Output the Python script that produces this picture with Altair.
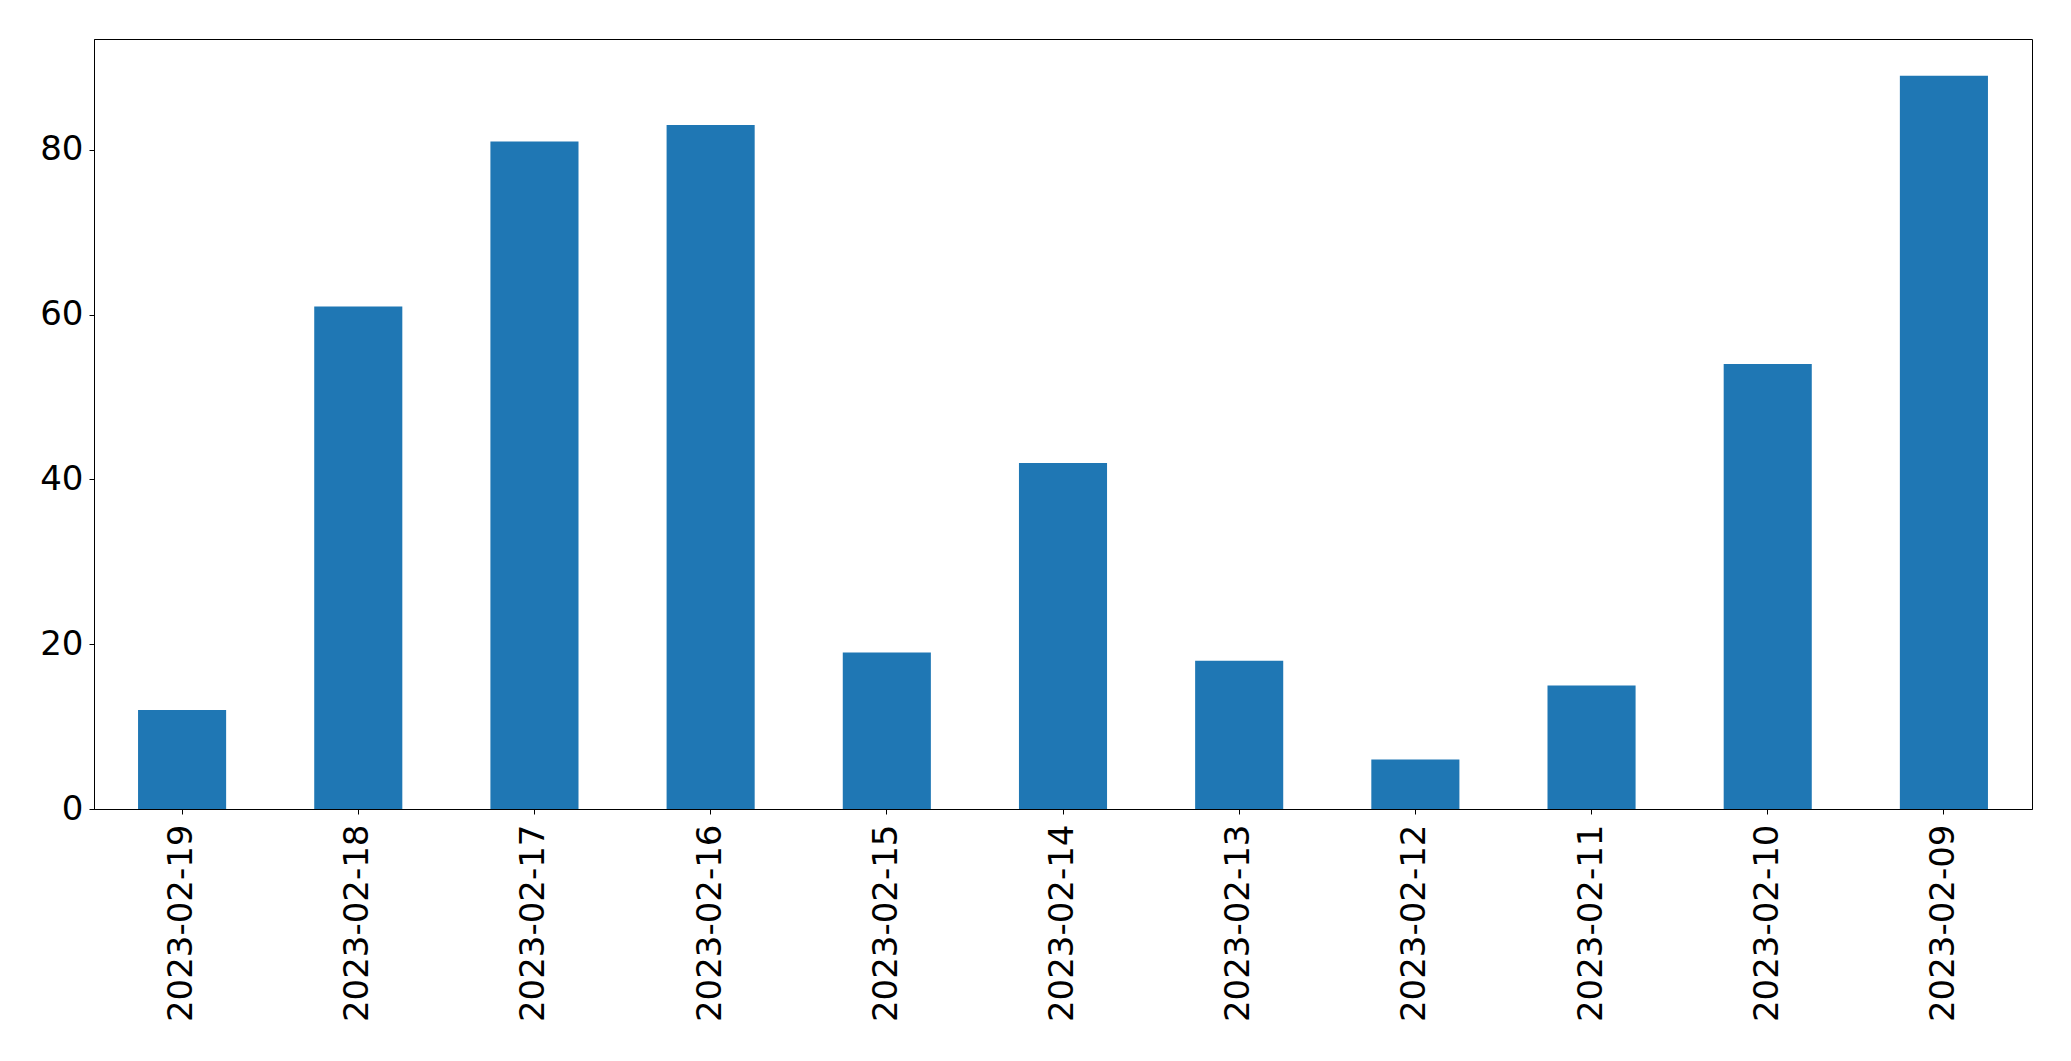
import altair as alt
import pandas as pd

dates = ["2023-02-19", "2023-02-18", "2023-02-17", "2023-02-16", "2023-02-15",
         "2023-02-14", "2023-02-13", "2023-02-12", "2023-02-11", "2023-02-10",
         "2023-02-09"]
values = [12, 61, 81, 83, 19, 42, 18, 6, 15, 54, 89]
y_ticks = [0, 20, 40, 60, 80]

df = pd.DataFrame({"date": dates, "value": values})

chart = alt.Chart(df).mark_bar(color="#1f77b4").encode(
    x=alt.X("date:N", sort=None, title=None,
            scale=alt.Scale(paddingInner=0.5, paddingOuter=0.25),
            axis=alt.Axis(labelAngle=-90, labelFontSize=34, labelFont="DejaVu Sans",
                          labelColor="black", tickColor="black", tickSize=5,
                          domainColor="black", labelPadding=10, grid=False,
                          labelLimit=0, labelOverlap=False,
                          labelBaseline="middle", labelAlign="right")),
    y=alt.Y("value:Q", title=None,
            scale=alt.Scale(domain=[0, 93.45], nice=False, zero=True),
            axis=alt.Axis(values=y_ticks, labelFontSize=34, labelFont="DejaVu Sans",
                          labelColor="black", tickColor="black", tickSize=5,
                          domainColor="black", labelPadding=6, grid=False)),
).properties(
    width=1938, height=770,
    autosize=alt.AutoSizeParams(type="none"),
    padding={"left": 86, "top": 31, "right": 30, "bottom": 240},
).configure_view(
    stroke="black", strokeWidth=1
).configure_axis(
    domainWidth=1, tickWidth=1
)

chart.save("out.html", embed_options={"renderer": "svg", "actions": False})
